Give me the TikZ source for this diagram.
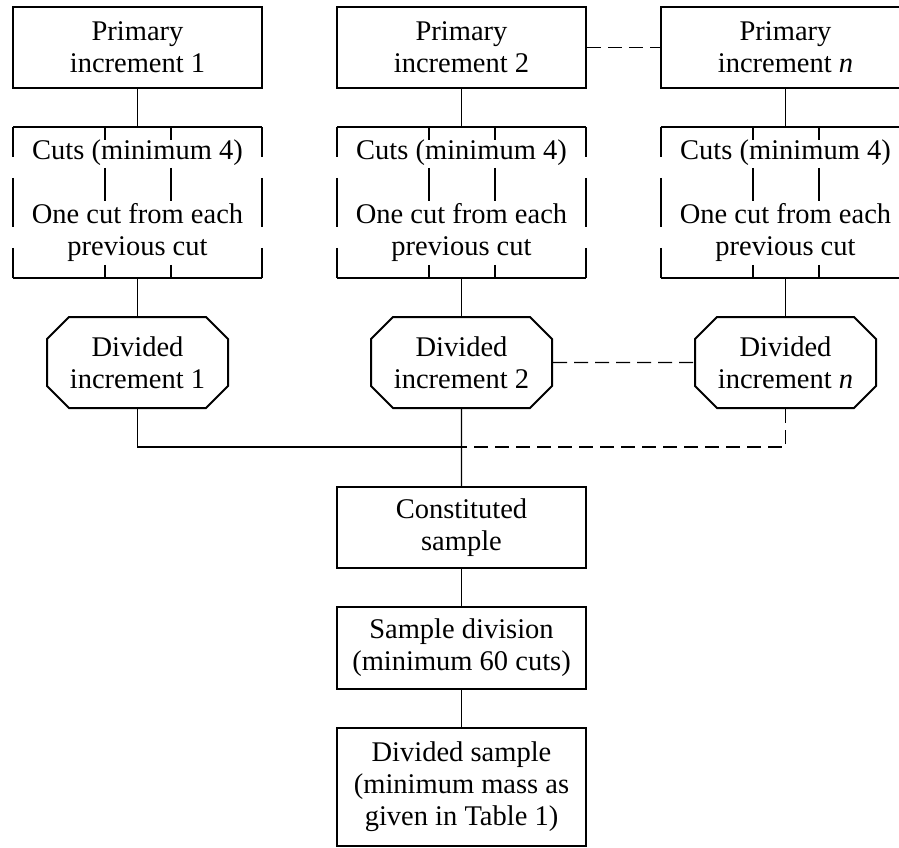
\documentclass[tikz,border=0pt]{standalone}
\usepackage{fontspec}
\setmainfont{Liberation Serif}
\usetikzlibrary{shapes.misc}

\tikzset{
  box/.style={draw, line width=2pt, minimum width=249pt, inner sep=0pt, align=center},
  cutbox/.style={minimum width=249pt, minimum height=151pt, inner sep=0pt},
  octbox/.style={draw, line width=2pt, chamfered rectangle, chamfered rectangle xsep=11pt,
    chamfered rectangle ysep=11pt, minimum width=181pt, minimum height=91pt, inner sep=0pt, align=center},
  txt/.style={inner sep=0pt, align=center},
  cutline/.style={line width=2pt},
  link/.style={line width=1.2pt},
  dashlink/.style={line width=1.2pt, dash pattern=on 14pt off 7pt}
}

\begin{document}
\begin{tikzpicture}[x=1pt,y=-1pt,font=\fontsize{28.5}{32}\selectfont]
\useasboundingbox (0,0) rectangle (899,847);
%
\node[box, minimum height=81pt] (p1) at (137.5,47.5) {Primary\\increment 1};
\node[box, minimum height=81pt] (p2) at (461.5,47.5) {Primary\\increment 2};
\node[box, minimum height=81pt] (pn) at (785.5,47.5) {Primary\\increment \textit{n}};
%
\node[cutbox] (c1) at (137.5,202.5) {};
\node[cutbox] (c2) at (461.5,202.5) {};
\node[cutbox] (cn) at (785.5,202.5) {};
\node[txt] (t1) at (137.5,153) {Cuts (minimum 4)};
\node[txt] (t2) at (461.5,153) {Cuts (minimum 4)};
\node[txt] (tn) at (785.5,153) {Cuts (minimum 4)};
\node[txt] (s1) at (137.5,232) {One cut from each\\previous cut};
\node[txt] (s2) at (461.5,232) {One cut from each\\previous cut};
\node[txt] (sn) at (785.5,232) {One cut from each\\previous cut};
\foreach \c in {c1,c2,cn} {
  \draw[cutline] (\c.north west) -- (\c.north east) (\c.south west) -- (\c.south east);
  \draw[cutline] (\c.north west) -- ++(0,30) ++(0,21) -- ++(0,49) ++(0,21) -- ++(0,30);
  \draw[cutline] (\c.north east) -- ++(0,30) ++(0,21) -- ++(0,49) ++(0,21) -- ++(0,30);
  \draw[cutline] (\c.north) ++(-33,0) -- ++(0,13) ++(0,28) -- ++(0,33) ++(0,64) -- ++(0,13);
  \draw[cutline] (\c.north) ++(33,0) -- ++(0,13) ++(0,28) -- ++(0,33) ++(0,64) -- ++(0,13);
}
%
\node[octbox] (d1) at (137.5,362.5) {Divided\\increment 1};
\node[octbox] (d2) at (461.5,362.5) {Divided\\increment 2};
\node[octbox] (dn) at (785.5,362.5) {Divided\\increment \textit{n}};
%
\coordinate (bus) at (461.5,447);
\node[box, minimum height=81pt] (cs) at (461.5,527.5) {Constituted\\sample};
\node[box, minimum height=82pt] (sd) at (461.5,648) {Sample division\\(minimum 60 cuts)};
\node[box, minimum height=118pt] (ds) at (461.5,787) {Divided sample\\(minimum mass as\\given in Table 1)};
%
\draw[link] (p1) -- (c1);
\draw[link] (p2) -- (c2);
\draw[link] (pn) -- (cn);
\draw[link] (c1) -- (d1);
\draw[link] (c2) -- (d2);
\draw[link] (cn) -- (dn);
\draw[dashlink] (p2) -- (pn);
\draw[dashlink] (d2) -- (dn);
\draw[link] (d1) |- (bus);
\draw[dashlink] (dn) |- (bus);
\draw[link] (d2) -- (cs);
\draw[link] (cs) -- (sd);
\draw[link] (sd) -- (ds);
\end{tikzpicture}
\end{document}
